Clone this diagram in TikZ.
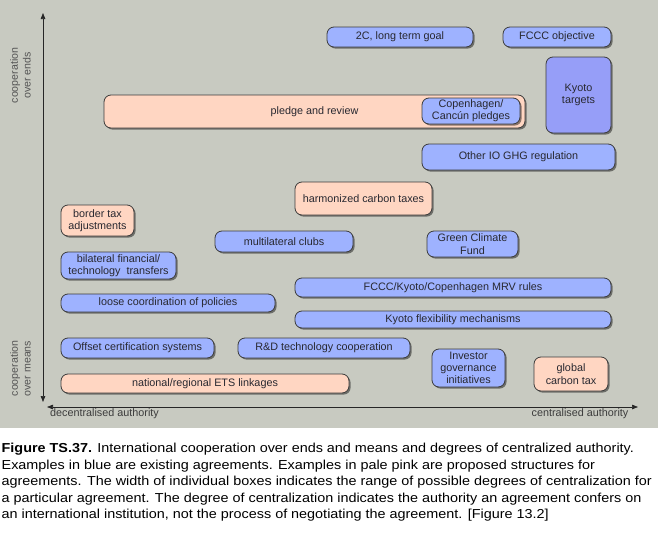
\documentclass[tikz,border=0pt]{standalone}
\usepackage{fontspec}
\setmainfont{Liberation Sans}
\newfontfamily\capfont[FakeStretch=1.107]{Liberation Sans}
\usetikzlibrary{shadows,arrows.meta}
\definecolor{bg}{RGB}{200,202,193}
\definecolor{pinkfill}{RGB}{255,214,194}
\definecolor{bluefill}{RGB}{158,178,255}
\definecolor{kyotofill}{RGB}{150,158,248}
\definecolor{edgecol}{RGB}{60,60,60}
\definecolor{txt}{RGB}{40,40,48}
\definecolor{axistxt}{RGB}{60,60,60}
\definecolor{sidetxt}{RGB}{85,85,85}
\tikzset{
  agree/.style={draw=edgecol, line width=0.8pt, rounded corners=7pt, inner sep=0pt,
    align=center, text=txt, font=\fontsize{10.8}{12.3}\selectfont,
    drop shadow={shadow xshift=1.6pt, shadow yshift=-1.6pt, opacity=0.45, fill=black}},
  existing/.style={agree, fill=bluefill},
  proposed/.style={agree, fill=pinkfill},
  kyotostyle/.style={agree, fill=kyotofill},
  axisline/.style={draw=black!85, line width=0.7pt,
    {Triangle[length=6pt,width=4.5pt]}-{Triangle[length=6pt,width=4.5pt]}},
  axislabel/.style={inner sep=0pt, text=axistxt, font=\fontsize{10.8}{12.3}\selectfont},
  sidelabel/.style={inner sep=0pt, text=sidetxt, rotate=90, align=center,
    font=\fontsize{10.6}{12.7}\selectfont},
  capline/.style={inner sep=0pt, anchor=base west, text=black,
    font=\capfont\fontsize{13}{16.5}\selectfont}
}
\begin{document}
\begin{tikzpicture}[x=1pt,y=-1pt]
\useasboundingbox (0,0) rectangle (661,538);
\fill[white] (0,0) rectangle (661,538);
\fill[bg] (0,0) rectangle (658,428);

% axes
\coordinate (ytop) at (43,13);
\coordinate (ybot) at (43,402);
\coordinate (xleft) at (47,407);
\coordinate (xright) at (638,407);
\draw[axisline] (ytop) -- (ybot);
\draw[axisline] (xleft) -- (xright);

\node[sidelabel] (ends) at (20.5,75.5) {cooperation\\over ends};
\node[sidelabel] (means) at (20.5,368.5) {cooperation\\over means};
\node[axislabel] (decent) at (104.5,413.5) {decentralised authority};
\node[axislabel] (cent) at (580,413.5) {centralised authority};

% boxes
\node[existing, minimum width=146pt, minimum height=20pt] (goal) at (400,37) {2C, long term goal};
\node[existing, minimum width=108pt, minimum height=20pt] (fccc) at (557,37) {FCCC objective};
\node[kyotostyle, minimum width=65pt, minimum height=76pt] (kyoto) at (578.5,95) {Kyoto\\targets};
\node[proposed, minimum width=421pt, minimum height=33pt] (pledge) at (314.5,111.5) {pledge and review};
\node[existing, minimum width=98pt, minimum height=26pt] (copen) at (471,111) {Copenhagen/\\Canc\'un pledges};
\node[existing, minimum width=193pt, minimum height=26pt] (otherio) at (518.5,157) {Other IO GHG regulation};
\node[proposed, minimum width=137pt, minimum height=33pt] (harm) at (363.5,198.5) {harmonized carbon taxes};
\node[proposed, minimum width=73pt, minimum height=31pt] (border) at (97.5,220.5) {border tax\\adjustments};
\node[existing, minimum width=138pt, minimum height=21pt] (clubs) at (284,241.5) {multilateral clubs};
\node[existing, minimum width=91pt, minimum height=26pt] (gcf) at (472.5,244) {Green Climate\\Fund};
\node[existing, minimum width=115pt, minimum height=27pt] (bilat) at (118.5,265.5) {bilateral financial/\\technology\ \ transfers};
\node[existing, minimum width=316pt, minimum height=19pt] (mrv) at (453,287.5) {FCCC/Kyoto/Copenhagen MRV rules};
\node[existing, minimum width=214pt, minimum height=18pt] (loose) at (168,303) {loose coordination of policies};
\node[existing, minimum width=316pt, minimum height=17pt] (flex) at (453,319.5) {Kyoto flexibility mechanisms};
\node[existing, minimum width=153pt, minimum height=20pt] (offset) at (137.5,348) {Offset certification systems};
\node[existing, minimum width=172pt, minimum height=20pt] (rd) at (324,348) {R\&D technology cooperation};
\node[existing, minimum width=73pt, minimum height=38pt] (investor) at (468.5,368) {Investor\\governance\\initiatives};
\node[proposed, minimum width=74pt, minimum height=34pt] (gtax) at (571,374) {global\\carbon tax};
\node[proposed, minimum width=288pt, minimum height=19pt] (ets) at (205,383.5) {national/regional ETS linkages};

% caption
\node[capline] (cap1) at (1.5,452.5) {\textbf{Figure TS.37.} International cooperation over ends and means and degrees of centralized authority.};
\node[capline] (cap2) at (1.5,469) {Examples in blue are existing agreements. Examples in pale pink are proposed structures for};
\node[capline] (cap3) at (1.5,485.5) {agreements. The width of individual boxes indicates the range of possible degrees of centralization for};
\node[capline] (cap4) at (1.5,502) {a particular agreement. The degree of centralization indicates the authority an agreement confers on};
\node[capline] (cap5) at (1.5,518.5) {an international institution, not the process of negotiating the agreement. [Figure 13.2]};
\end{tikzpicture}
\end{document}
